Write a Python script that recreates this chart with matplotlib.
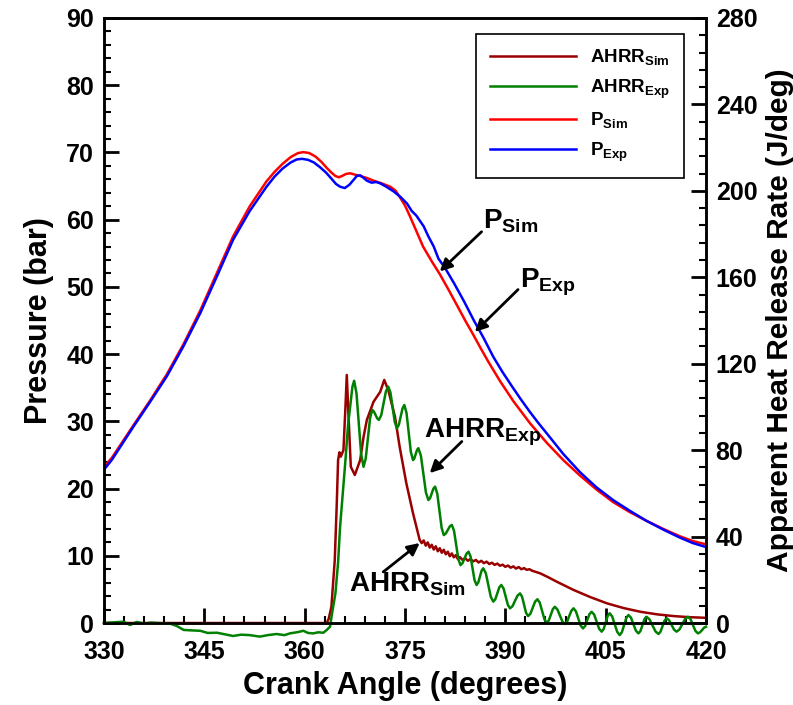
import matplotlib
matplotlib.use("Agg")
import matplotlib.pyplot as plt
from matplotlib.ticker import MultipleLocator

plt.rcParams['font.family'] = ['Liberation Sans', 'DejaVu Sans']
plt.rcParams['font.weight'] = 'bold'
plt.rcParams['mathtext.fontset'] = 'custom'
plt.rcParams['mathtext.rm'] = 'Liberation Sans'
plt.rcParams['mathtext.bf'] = 'Liberation Sans:bold'

# cylinder pressure, simulation (bar)
p_sim_deg = [330.0, 331.2, 334.4, 336.9, 339.4, 341.9, 344.4, 346.9, 349.3, 351.8,
             354.3, 355.5, 356.7, 357.9, 359.0, 359.8, 360.7, 361.6, 362.5, 363.3,
             364.0, 364.6, 365.1, 365.6, 366.2, 366.8, 367.5, 368.3, 369.3, 370.3,
             371.5, 372.8, 373.6, 374.2, 375.0, 375.7, 376.7, 377.7, 379.0, 380.2,
             381.5, 382.7, 384.0, 385.2, 386.3, 387.5, 389.2, 391.2, 393.7, 396.2,
             398.7, 401.2, 403.7, 406.1, 408.6, 411.1, 413.6, 416.1, 418.0, 420.0]
p_sim = [23.2, 24.6, 29.4, 33.1, 37.0, 41.5, 46.5, 52.1, 57.5, 62.0,
         65.7, 67.1, 68.3, 69.3, 69.9, 70.05, 69.9, 69.4, 68.6, 67.7,
         67.0, 66.5, 66.3, 66.5, 66.8, 66.9, 66.7, 66.5, 66.2, 65.8,
         65.4, 64.9, 64.3, 63.4, 62.1, 60.6, 58.3, 56.0, 53.8, 51.9,
         49.6, 47.4, 45.0, 42.9, 40.9, 38.8, 36.0, 33.0, 29.7, 26.8,
         24.2, 21.9, 19.8, 18.0, 16.5, 15.2, 14.0, 12.9, 12.2, 11.7]

# cylinder pressure, experiment (bar)
p_exp_deg = [330.0, 331.2, 334.4, 336.9, 339.4, 341.9, 344.4, 346.9, 349.3, 351.8,
             354.3, 355.5, 356.7, 357.9, 358.8, 359.6, 360.5, 361.4, 362.3, 363.2,
             364.0, 364.7, 365.3, 366.0, 366.7, 367.3, 367.8, 368.3, 368.7, 369.3,
             370.0, 370.7, 371.3, 372.2, 373.3, 374.3, 375.3, 376.0, 376.7, 377.8,
             378.5, 379.3, 380.0, 381.0, 382.3, 383.8, 385.3, 386.7, 388.2, 389.6,
             391.0, 392.3, 393.6, 394.9, 396.2, 398.7, 401.2, 403.6, 406.1, 408.6,
             411.1, 413.6, 416.1, 418.0, 420.0]
p_exp = [22.8, 24.3, 29.2, 32.9, 36.7, 41.2, 46.1, 51.6, 57.0, 61.3,
         64.9, 66.4, 67.6, 68.5, 68.95, 69.05, 68.9, 68.5, 67.8, 67.0,
         66.1, 65.3, 64.9, 64.7, 65.2, 65.9, 66.5, 66.6, 66.3, 65.8,
         65.5, 65.6, 65.4, 64.9, 64.2, 63.4, 62.4, 61.3, 60.6, 59.0,
         57.5, 56.0, 54.2, 52.8, 50.6, 47.9, 45.0, 42.5, 39.6, 37.3,
         35.2, 33.3, 31.5, 29.8, 28.2, 25.1, 22.4, 20.2, 18.3, 16.7,
         15.2, 13.9, 12.7, 11.9, 11.3]

# apparent heat release rate, simulation (J/deg)
ahrr_sim_deg = [330.0, 363.3, 363.6, 364.0, 364.5, 364.8, 365.0, 365.2, 365.4, 365.8,
                366.1, 366.3, 366.5, 366.9, 367.5, 368.3, 368.8, 369.3, 370.3, 371.3,
                371.9, 372.5, 373.5, 374.2, 375.2, 376.2, 377.2, 377.5, 377.8, 378.1,
                378.4, 378.7, 379.0, 379.3, 379.6, 379.9, 380.2, 380.5, 380.8, 381.1,
                381.4, 381.7, 382.0, 382.3, 382.6, 382.9, 383.2, 383.6, 384.0, 384.4,
                384.8, 385.2, 385.6, 386.0, 386.4, 386.8, 387.2, 387.6, 388.0, 388.4,
                388.8, 389.2, 389.6, 390.0, 390.4, 390.8, 391.2, 391.6, 392.0, 392.4,
                392.8, 393.2, 393.6, 394.0, 395.2, 396.4, 397.7, 400.2, 402.7, 405.2,
                407.7, 410.2, 412.7, 415.2, 417.5, 420.0]
ahrr_sim = [0.0, 0.0, 2.0, 7.5, 29.0, 55.0, 75.4, 79.0, 77.0, 80.0,
            100.0, 114.8, 100.0, 72.3, 68.5, 75.4, 86.0, 94.0, 102.4, 107.0,
            112.5, 107.8, 95.5, 81.6, 64.7, 50.8, 38.4, 37.0, 38.2, 35.8,
            37.3, 34.9, 36.2, 34.0, 35.5, 33.2, 34.6, 32.5, 33.9, 31.8,
            33.0, 30.9, 32.2, 30.4, 31.4, 29.6, 30.5, 29.2, 30.0, 28.8,
            29.6, 28.5, 29.2, 28.0, 28.8, 27.7, 28.4, 27.3, 27.9, 26.9,
            27.5, 26.5, 27.0, 26.0, 26.6, 25.6, 26.2, 25.2, 25.9, 24.9,
            25.4, 24.6, 24.9, 24.2, 23.0, 21.2, 19.1, 15.3, 12.0, 9.1,
            6.9, 5.2, 4.0, 3.2, 2.7, 2.4]

# apparent heat release rate, experiment (J/deg)
ahrr_exp_deg = [330.0, 331.5, 332.9, 333.9, 334.9, 336.0, 337.0, 338.9, 340.0, 340.9,
                341.9, 343.0, 344.4, 345.5, 346.9, 348.0, 349.3, 350.5, 351.8, 353.3,
                354.5, 355.8, 357.0, 357.8, 359.0, 359.8, 360.5, 361.3, 362.0, 362.8,
                363.3, 363.8, 364.1, 364.6, 365.0, 365.3, 365.7, 366.1, 366.5, 366.9,
                367.15, 367.4, 367.75, 368.1, 368.45, 368.8, 369.13, 369.45, 369.78, 370.1,
                370.35, 370.6, 370.85, 371.1, 371.45, 371.8, 372.15, 372.5, 372.83, 373.15,
                373.48, 373.8, 374.08, 374.35, 374.63, 374.9, 375.23, 375.55, 375.88, 376.2,
                376.4, 376.6, 376.8, 377.0, 377.38, 377.75, 378.13, 378.5, 378.75, 379.0,
                379.25, 379.5, 379.83, 380.15, 380.48, 380.8, 381.1, 381.4, 381.7, 382.0,
                382.33, 382.65, 382.98, 383.3, 383.6, 383.9, 384.2, 384.5, 384.8, 385.1,
                385.4, 385.7, 385.95, 386.2, 386.45, 386.7, 387.08, 387.45, 387.83, 388.2,
                388.5, 388.8, 389.1, 389.4, 389.73, 390.05, 390.38, 390.7, 391.08, 391.45,
                391.83, 392.2, 392.5, 392.8, 393.1, 393.4, 393.75, 394.1, 394.45, 394.8,
                395.15, 395.5, 395.85, 396.2, 396.5, 396.8, 397.1, 397.4, 397.78, 398.15,
                398.53, 398.9, 399.23, 399.55, 399.88, 400.2, 400.55, 400.9, 401.25, 401.6,
                401.93, 402.25, 402.58, 402.9, 403.28, 403.65, 404.03, 404.4, 404.7, 405.0,
                405.3, 405.6, 405.98, 406.35, 406.73, 407.1, 407.43, 407.75, 408.08, 408.4,
                408.78, 409.15, 409.53, 409.9, 410.2, 410.5, 410.8, 411.1, 411.55, 412.0,
                412.45, 412.9, 413.2, 413.5, 413.8, 414.1, 414.48, 414.85, 415.23, 415.6,
                416.03, 416.45, 416.88, 417.3, 417.68, 418.05, 418.43, 418.8, 419.1, 419.4,
                419.7, 420.0]
ahrr_exp = [0.0, 0.3, 0.6, -0.9, 0.5, -0.3, 0.2, -0.2, -0.4, -1.4,
            -3.2, -3.4, -3.6, -4.6, -4.5, -5.2, -6.0, -5.4, -5.6, -6.3,
            -5.6, -5.1, -5.6, -4.8, -4.2, -3.6, -4.6, -4.8, -4.3, -4.5,
            -3.2, -1.7, 4.5, 13.7, 28.0, 44.6, 60.0, 75.4, 92.0, 103.0,
            109.5, 112.1, 106.3, 92.2, 78.1, 72.3, 76.1, 85.5, 94.8, 98.6,
            97.9, 96.3, 94.7, 94.0, 96.2, 101.7, 107.2, 109.4, 106.6, 99.8,
            92.9, 90.1, 91.7, 95.5, 99.3, 100.9, 97.2, 88.2, 79.1, 75.4,
            76.2, 78.2, 80.1, 80.9, 77.4, 68.9, 60.4, 56.9, 57.8, 60.0,
            62.2, 63.1, 59.8, 51.9, 44.0, 40.7, 41.4, 43.1, 44.7, 45.4,
            42.7, 36.1, 29.5, 26.8, 27.7, 29.9, 32.1, 33.0, 30.8, 25.3,
            19.8, 17.6, 18.7, 21.5, 24.2, 25.3, 23.1, 17.6, 12.1, 9.9,
            11.0, 13.8, 16.5, 17.6, 16.0, 12.2, 8.4, 6.8, 7.8, 10.3,
            12.7, 13.7, 12.2, 8.5, 4.7, 3.2, 4.3, 7.1, 9.9, 11.0,
            9.4, 5.6, 1.7, 0.1, 1.2, 3.8, 6.4, 7.5, 6.3, 3.5,
            0.7, -0.5, 0.6, 3.2, 5.7, 6.8, 5.4, 2.2, -1.1, -2.5,
            -1.4, 1.4, 4.1, 5.2, 3.9, 0.6, -2.7, -4.0, -2.8, 0.3,
            3.3, 4.5, 3.0, -0.6, -4.1, -5.6, -4.2, -1.0, 2.3, 3.7,
            2.5, -0.6, -3.6, -4.8, -3.7, -1.0, 1.8, 2.9, 1.7, -1.1,
            -3.9, -5.1, -4.0, -1.5, 1.1, 2.2, 1.3, -0.9, -3.1, -4.0,
            -3.0, -0.6, 1.9, 2.9, 1.8, -1.0, -3.7, -4.8, -4.3, -3.3,
            -2.2, -1.7]

fig = plt.figure(figsize=(7.93, 7.05), dpi=100)
ax = fig.add_axes([0.1311, 0.1163, 0.7592, 0.8582])
ax2 = ax.twinx()

l1, = ax2.plot(ahrr_sim_deg, ahrr_sim, color='#990000', lw=1.8, clip_on=False,
               label=r'$\mathbf{AHRR}_{\mathrm{Sim}}$')
l2, = ax2.plot(ahrr_exp_deg, ahrr_exp, color='#008000', lw=1.8, clip_on=False,
               label=r'$\mathbf{AHRR}_{\mathrm{Exp}}$')
l3, = ax.plot(p_sim_deg, p_sim, color='#ff0000', lw=1.8, label=r'$\mathbf{P}_{\mathrm{Sim}}$')
l4, = ax.plot(p_exp_deg, p_exp, color='#0000ff', lw=1.8, label=r'$\mathbf{P}_{\mathrm{Exp}}$')

ax.set_xlim(330, 420)
ax.set_ylim(0, 90)
ax2.set_ylim(0, 280)
ax.xaxis.set_major_locator(MultipleLocator(15))
ax.xaxis.set_minor_locator(MultipleLocator(3))
ax.yaxis.set_major_locator(MultipleLocator(10))
ax.yaxis.set_minor_locator(MultipleLocator(2))
ax2.yaxis.set_major_locator(MultipleLocator(40))
ax2.yaxis.set_minor_locator(MultipleLocator(8))

for a in (ax, ax2):
    a.tick_params(which='major', direction='in', length=11, width=2, labelsize=18, pad=7)
    a.tick_params(which='minor', direction='in', length=5, width=1.5)
    for s in a.spines.values():
        s.set_linewidth(1.8)
ax.tick_params(axis='x', which='both', top=False, pad=12)

ax.set_xlabel('Crank Angle (degrees)', fontsize=22, fontweight='bold', labelpad=5)
ax.set_ylabel('Pressure (bar)', fontsize=22, fontweight='bold', labelpad=9)
ax2.set_ylabel('Apparent Heat Release Rate (J/deg)', fontsize=21.5, fontweight='bold', labelpad=6)

leg = ax.legend(handles=[l1, l2, l3, l4], loc='upper right', bbox_to_anchor=(0.9635, 0.9736),
                fontsize=13.5, handlelength=4.6, handletextpad=0.75, labelspacing=0.5,
                borderpad=0.75, borderaxespad=0, fancybox=False, framealpha=1, edgecolor='black')
leg.get_frame().set_linewidth(1.2)

# curve labels with arrows
arrow = dict(arrowstyle='-|>', color='black', lw=2, mutation_scale=18, shrinkA=0, shrinkB=0)
ax.text(386.6, 58.8, r'$\mathbf{P}_{\mathbf{Sim}}$', fontsize=20, va='baseline')
ax.annotate('', xy=(380.2, 52.3), xytext=(386.45, 58.2), arrowprops=arrow)
ax.text(392.2, 49.9, r'$\mathbf{P}_{\mathbf{Exp}}$', fontsize=20, va='baseline')
ax.annotate('', xy=(385.45, 43.3), xytext=(391.9, 49.6), arrowprops=arrow)
ax.text(377.8, 27.7, r'$\mathbf{AHRR}_{\mathbf{Exp}}$', fontsize=20, va='baseline')
ax.annotate('', xy=(378.7, 22.3), xytext=(383.5, 27.0), arrowprops=arrow)
ax.text(366.6, 4.66, r'$\mathbf{AHRR}_{\mathbf{Sim}}$', fontsize=20, va='baseline')
ax.annotate('', xy=(377.2, 11.9), xytext=(371.75, 7.6), arrowprops=arrow)

fig.savefig('out.png', dpi=100)
